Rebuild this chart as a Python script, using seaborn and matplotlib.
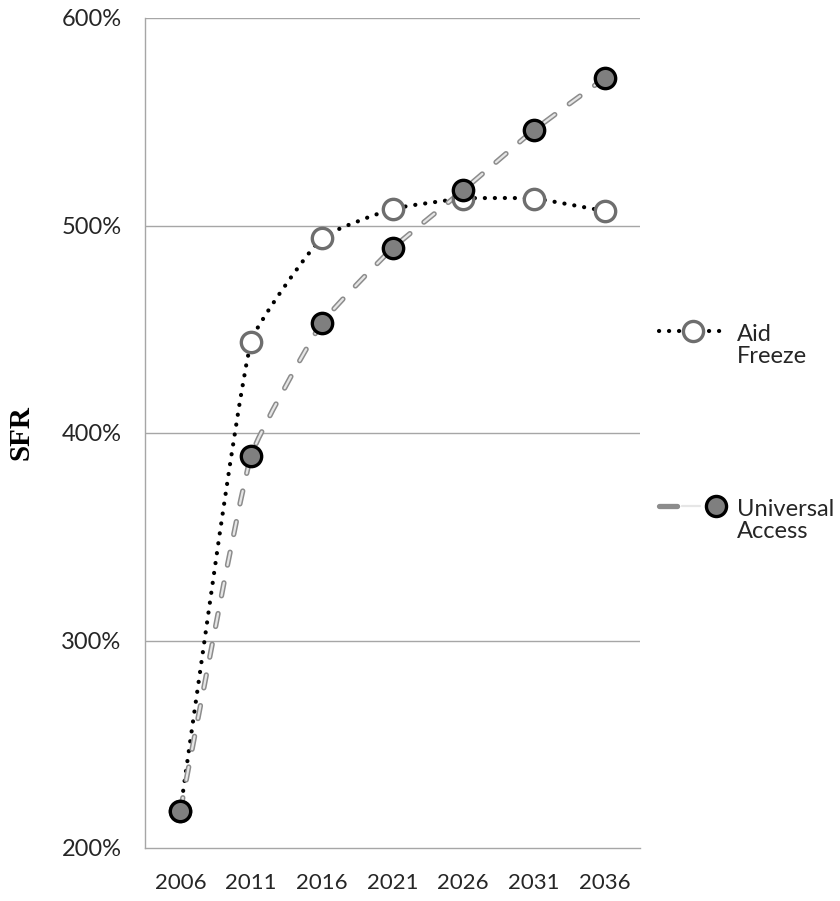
import numpy as np
import pandas as pd
import seaborn as sns
import matplotlib
matplotlib.use("Agg")
import matplotlib.pyplot as plt
from matplotlib.path import Path
from matplotlib.patches import PathPatch
from matplotlib.lines import Line2D
from matplotlib.legend_handler import HandlerTuple, HandlerLine2D

years = ["2006", "2011", "2016", "2021", "2026", "2031", "2036"]
aid_freeze = [218, 444, 494, 508, 513, 513, 507]
universal_access = [218, 389, 453, 489, 517, 546, 571]
series_names = ["Aid\nFreeze", "Universal\nAccess"]
y_ticks = [200, 300, 400, 500, 600]
y_label = "SFR"

sns.set_style("white")
plt.rcParams["font.family"] = ["Lato", "DejaVu Sans"]
plt.rcParams["lines.scale_dashes"] = False

fig = plt.figure(figsize=(8.4, 9.01), dpi=100)
ax = fig.add_axes([145 / 840, 1 - 848 / 901, 495 / 840, 830 / 901])
ax.set_xlim(-0.5, len(years) - 0.5)
ax.set_ylim(200, 600)

df = pd.DataFrame({
    "year": years * 2,
    "value": aid_freeze + universal_access,
    "series": [series_names[0]] * len(years) + [series_names[1]] * len(years),
})


def smooth_path(xs, ys):
    """Excel-like smoothed line: Bezier segments computed in screen space."""
    pts = ax.transData.transform(np.column_stack([xs, ys]).astype(float))
    n = len(pts)
    verts = [pts[0]]
    codes = [Path.MOVETO]
    for i in range(n - 1):
        p0 = pts[max(i - 1, 0)]
        p1 = pts[i]
        p2 = pts[i + 1]
        p3 = pts[min(i + 2, n - 1)]
        d12 = np.hypot(*(p2 - p1))
        t1 = (p2 - p0) / 6.0
        t2 = (p3 - p1) / 6.0
        lim = d12 * 0.13
        if np.hypot(*t1) > lim:
            t1 = t1 * lim / np.hypot(*t1)
        if np.hypot(*t2) > lim:
            t2 = t2 * lim / np.hypot(*t2)
        verts += [p1 + t1, p2 - t2, p2]
        codes += [Path.CURVE4] * 3
    verts = ax.transData.inverted().transform(np.array(verts))
    return Path(verts, codes)


xs = np.arange(len(years))
for t in y_ticks[1:]:
    ax.axhline(t, color="#a6a6a6", lw=1.0, zorder=0)

DOT = (0, (0.1, 7.1))
DASH = (0, (9.5, 13.0))

p_aid = PathPatch(smooth_path(xs, aid_freeze), fill=False, edgecolor="black",
                  lw=3.0, linestyle=DOT, capstyle="round", zorder=2)
ax.add_patch(p_aid)

ua_path = smooth_path(xs, universal_access)
p_ua_outer = PathPatch(ua_path, fill=False, edgecolor="#8c8c8c", lw=3.8,
                       linestyle=DASH, capstyle="round", zorder=3)
p_ua_inner = PathPatch(ua_path, fill=False, edgecolor="#e6e6e6", lw=1.6,
                       linestyle=DASH, capstyle="round", zorder=3.1)
ax.add_patch(p_ua_outer)
ax.add_patch(p_ua_inner)

sns.scatterplot(data=df[df.series == series_names[0]], x="year", y="value", ax=ax,
                marker="o", s=215, color="white", edgecolor="#6e6e6e",
                linewidth=2.4, zorder=4, legend=False)
sns.scatterplot(data=df[df.series == series_names[1]], x="year", y="value", ax=ax,
                marker="o", s=215, color="#7f7f7f", edgecolor="black",
                linewidth=2.4, zorder=5, legend=False)

ax.set_xlim(-0.5, len(years) - 0.5)
ax.set_ylim(200, 600)
ax.set_yticks(y_ticks)
ax.set_yticklabels([f"{t}%" for t in y_ticks])
ax.tick_params(axis="y", length=0, labelsize=17, colors="#262626", pad=17)
ax.tick_params(axis="x", length=0, labelsize=16, colors="#262626", pad=18)
ax.set_xlabel("")
ax.set_ylabel(y_label, fontsize=21, fontweight="bold", family="Liberation Serif",
              labelpad=19, color="black")
for side in ["top", "right"]:
    ax.spines[side].set_visible(False)
for side in ["left", "bottom"]:
    ax.spines[side].set_color("#a6a6a6")
    ax.spines[side].set_linewidth(1.0)


class TopLineHandler(HandlerLine2D):
    """Place the legend handle level with the first text line."""
    shift = 10.5

    def create_artists(self, legend, orig_handle, xdescent, ydescent, width,
                       height, fontsize, trans):
        arts = super().create_artists(legend, orig_handle, xdescent, ydescent,
                                      width, height, fontsize, trans)
        for a in arts:
            a.set_ydata(np.asarray(a.get_ydata()) + self.shift)
        return arts


h_aid = Line2D([0], [0], color="black", lw=3.0, linestyle=DOT,
               dash_capstyle="round", marker="o", markersize=14.5,
               markerfacecolor="white", markeredgecolor="#6e6e6e", markeredgewidth=2.4)
h_ua_o = Line2D([0], [0], color="#8c8c8c", lw=3.8, linestyle=(0, (13, 13)),
                dash_capstyle="round")
h_ua_i = Line2D([0], [0], color="#e6e6e6", lw=1.6, linestyle=(0, (13, 13)),
                dash_capstyle="round")
h_ua_m = Line2D([0], [0], linestyle="none", marker="o", markersize=14.5,
                markerfacecolor="#7f7f7f", markeredgecolor="black", markeredgewidth=2.4)
leg = ax.legend([h_aid, (h_ua_o, h_ua_i, h_ua_m)], series_names,
                handler_map={Line2D: TopLineHandler(),
                             tuple: HandlerTuple(ndivide=None, pad=0)},
                loc="center left", bbox_to_anchor=(1.005, 0.5), frameon=False,
                fontsize=17, handlelength=2.9, labelspacing=5.6, handletextpad=0.4,
                borderaxespad=0.3)
for t in leg.get_texts():
    t.set_color("#262626")
    t.set_linespacing(1.05)

fig.savefig("out.png", dpi=100)
